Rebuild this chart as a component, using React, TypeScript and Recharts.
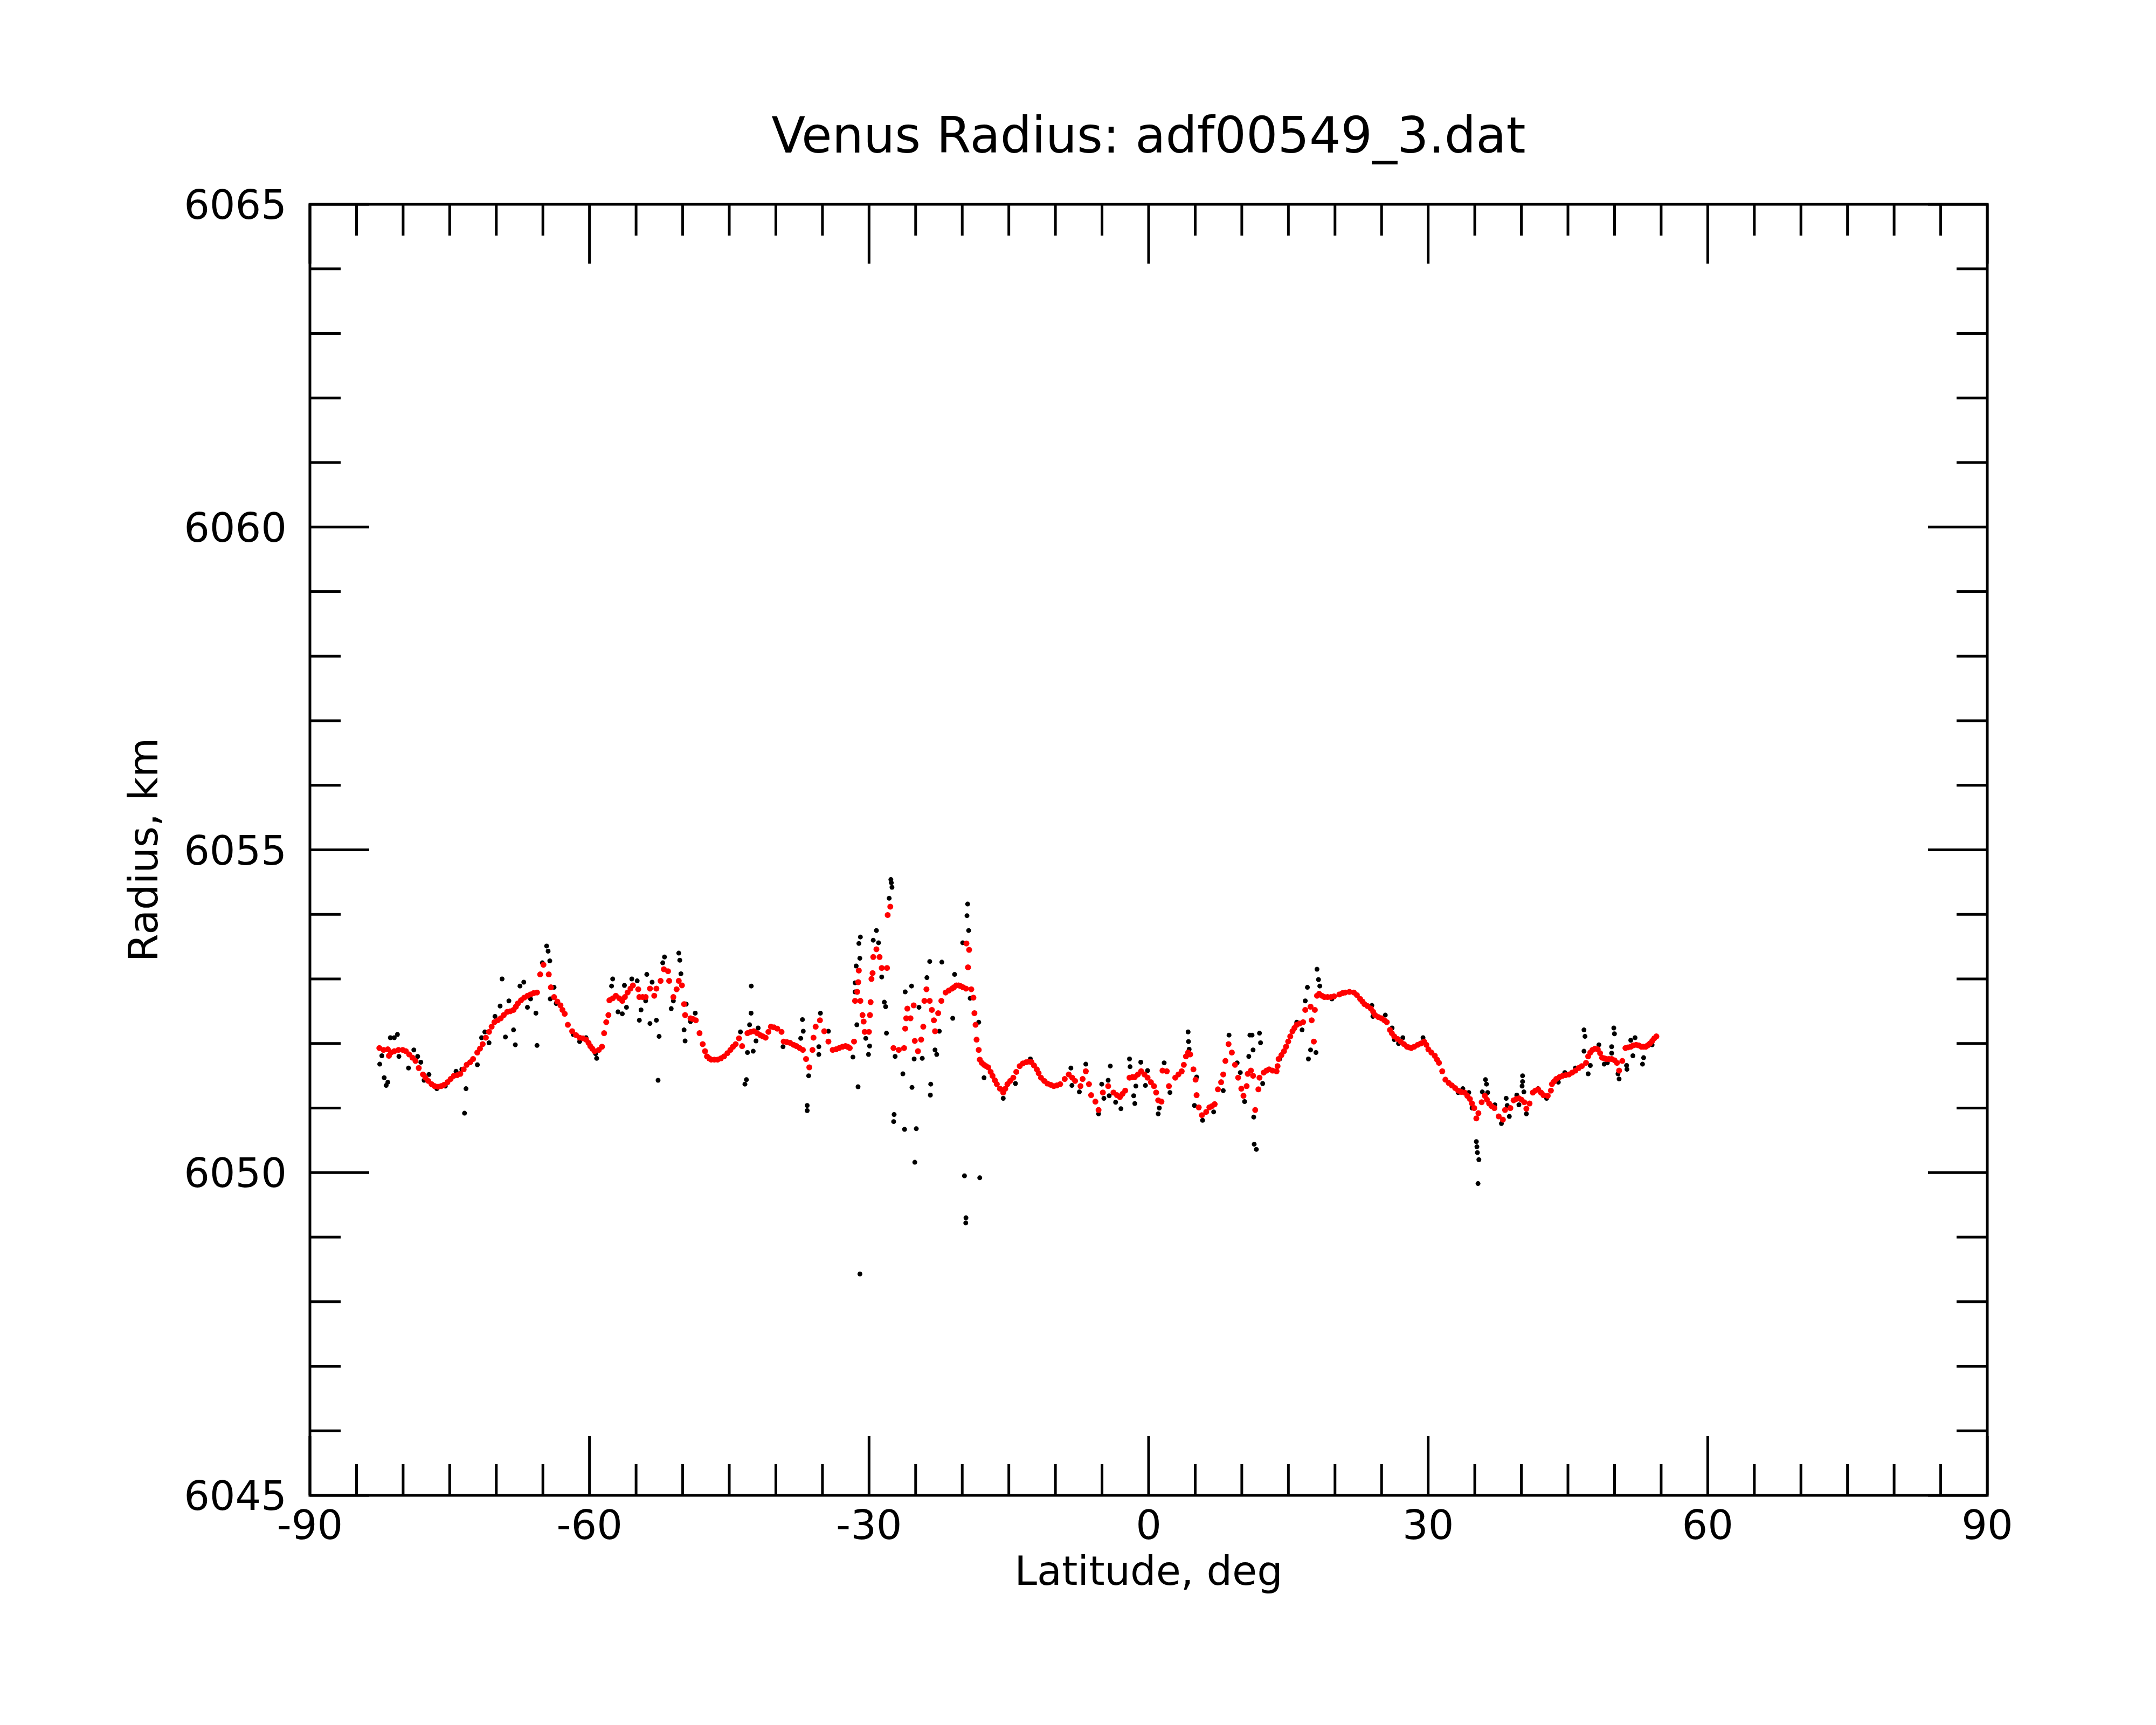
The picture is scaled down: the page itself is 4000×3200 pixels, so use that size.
// Venus radius profile along one altimetry track (adf00549_3.dat).
// Black dots = raw radius samples, red dots = smoothed profile.
// Frame with inward ticks on all four sides, drawn by custom tick renderers.

import { ReferenceArea, Scatter, ScatterChart, XAxis, YAxis } from 'recharts'

const WIDTH = 4000
const HEIGHT = 3200
const PLOT_LEFT = 575
const PLOT_TOP = 379
const PLOT_RIGHT = 3687
const PLOT_BOTTOM = 2774
const PLOT_W = PLOT_RIGHT - PLOT_LEFT
const PLOT_H = PLOT_BOTTOM - PLOT_TOP
const FONT = '"DejaVu Sans", sans-serif'

const latTicks = [
  -90, -85, -80, -75, -70, -65, -60, -55, -50, -45, -40, -35, -30, -25, -20, -15, -10, -5, 0,
  5, 10, 15, 20, 25, 30, 35, 40, 45, 50, 55, 60, 65, 70, 75, 80, 85, 90,
]
const radiusTicks = [
  6045, 6046, 6047, 6048, 6049, 6050, 6051, 6052, 6053, 6054, 6055,
  6056, 6057, 6058, 6059, 6060, 6061, 6062, 6063, 6064, 6065,
]

// [latitude deg, radius km] — smoothed profile (red)
const smoothed: [number, number][] = [
  [-82.55, 6051.93], [-81.64, 6051.91], [-81.52, 6051.81], [-80.95, 6051.88], [-80.04, 6051.9],
  [-79.35, 6051.83], [-78.67, 6051.73], [-78.32, 6051.62], [-77.87, 6051.52], [-77.3, 6051.42],
  [-76.61, 6051.34], [-75.92, 6051.34], [-75.24, 6051.4], [-74.55, 6051.5], [-73.86, 6051.53],
  [-73.18, 6051.67], [-72.49, 6051.76], [-72.04, 6051.86], [-71.46, 6051.99], [-71.12, 6052.09],
  [-70.78, 6052.18], [-70.2, 6052.33], [-69.52, 6052.39], [-68.83, 6052.49], [-68.15, 6052.52],
  [-67.69, 6052.62], [-67.0, 6052.71], [-66.32, 6052.76], [-65.63, 6052.79], [-65.29, 6053.07],
  [-64.94, 6053.22], [-64.37, 6053.07], [-64.14, 6052.87], [-63.8, 6052.72], [-63.11, 6052.59],
  [-62.66, 6052.46], [-62.32, 6052.29], [-61.86, 6052.19], [-61.06, 6052.09], [-60.37, 6052.06],
  [-59.91, 6051.96], [-59.46, 6051.88], [-59.0, 6051.9], [-58.66, 6051.95], [-58.43, 6052.16],
  [-58.2, 6052.33], [-57.97, 6052.44], [-57.86, 6052.67], [-57.17, 6052.74], [-56.48, 6052.66],
  [-55.91, 6052.79], [-55.34, 6052.9], [-54.77, 6052.84], [-54.65, 6052.72], [-53.97, 6052.72],
  [-53.51, 6052.85], [-53.05, 6052.74], [-52.82, 6052.85], [-52.37, 6052.97], [-52.02, 6053.15],
  [-51.57, 6053.12], [-51.45, 6052.97], [-51.0, 6052.72], [-50.65, 6052.84], [-50.42, 6052.97],
  [-50.08, 6052.9], [-49.85, 6052.61], [-49.74, 6052.44], [-49.16, 6052.39], [-48.59, 6052.36],
  [-48.19, 6052.16], [-47.85, 6051.99], [-47.39, 6051.8], [-46.94, 6051.75], [-46.25, 6051.75],
  [-45.56, 6051.8], [-44.88, 6051.9], [-44.31, 6051.99], [-43.96, 6052.08], [-43.62, 6051.96],
  [-43.05, 6052.16], [-42.36, 6052.19], [-41.68, 6052.13], [-41.1, 6052.09], [-40.53, 6052.26],
  [-39.85, 6052.23], [-39.39, 6052.18], [-39.16, 6052.03], [-38.47, 6052.01], [-37.79, 6051.96],
  [-37.1, 6051.9], [-36.76, 6051.76], [-36.41, 6051.63], [-36.07, 6051.9], [-35.96, 6052.09],
  [-35.73, 6052.26], [-35.27, 6052.36], [-34.81, 6052.19], [-34.36, 6052.03], [-33.9, 6051.9],
  [-33.21, 6051.93], [-32.53, 6051.96], [-32.07, 6051.93], [-31.61, 6052.03], [-31.5, 6052.66],
  [-31.27, 6052.8], [-31.16, 6052.95], [-31.1, 6053.13], [-30.93, 6052.66], [-30.7, 6052.44],
  [-30.58, 6052.34], [-30.47, 6052.18], [-30.01, 6052.18], [-29.9, 6052.44], [-29.83, 6052.64],
  [-29.74, 6053.0], [-29.62, 6053.09], [-29.55, 6053.34], [-29.21, 6053.46], [-28.87, 6053.34],
  [-28.64, 6053.17], [-28.07, 6053.17], [-28.0, 6053.99], [-27.72, 6054.12], [-27.38, 6051.93],
  [-26.81, 6051.9], [-26.24, 6051.93], [-26.12, 6052.23], [-26.01, 6052.39], [-25.89, 6052.54],
  [-25.55, 6052.39], [-25.21, 6052.59], [-25.09, 6052.04], [-24.75, 6051.88], [-24.41, 6052.06],
  [-24.18, 6052.26], [-24.06, 6052.66], [-23.84, 6052.84], [-23.49, 6052.66], [-23.26, 6052.52],
  [-23.04, 6052.36], [-22.92, 6052.19], [-22.58, 6052.47], [-22.24, 6052.66], [-21.78, 6052.79],
  [-21.09, 6052.85], [-20.63, 6052.9], [-20.18, 6052.89], [-19.6, 6052.85], [-19.55, 6053.55],
  [-19.38, 6053.18], [-19.26, 6053.45], [-19.03, 6052.84], [-18.8, 6052.71], [-18.69, 6052.47],
  [-18.57, 6052.29], [-18.46, 6052.06], [-18.23, 6051.9], [-18.12, 6051.75], [-17.66, 6051.67],
  [-17.21, 6051.63], [-16.75, 6051.5], [-16.29, 6051.37], [-15.6, 6051.24], [-15.15, 6051.37],
  [-14.52, 6051.47], [-13.83, 6051.65], [-13.15, 6051.71], [-12.57, 6051.71], [-12.0, 6051.6],
  [-11.55, 6051.47], [-10.86, 6051.38], [-10.17, 6051.34], [-9.49, 6051.37], [-8.57, 6051.52],
  [-7.89, 6051.42], [-7.31, 6051.34], [-7.08, 6051.45], [-6.74, 6051.57], [-6.4, 6051.37],
  [-6.17, 6051.2], [-5.71, 6051.1], [-5.37, 6050.97], [-4.91, 6051.24], [-4.34, 6051.34],
  [-3.77, 6051.24], [-3.08, 6051.17], [-2.51, 6051.27], [-2.05, 6051.47], [-1.48, 6051.48],
  [-0.8, 6051.57], [-0.11, 6051.47], [0.58, 6051.34], [0.81, 6051.24], [1.03, 6051.12],
  [1.38, 6051.1], [1.49, 6051.58], [1.95, 6051.57], [2.18, 6051.34], [2.86, 6051.47],
  [3.55, 6051.57], [3.78, 6051.67], [4.01, 6051.8], [4.24, 6051.86], [4.46, 6051.83],
  [4.81, 6051.6], [5.04, 6051.44], [5.15, 6051.2], [5.38, 6051.01], [5.72, 6050.89],
  [6.18, 6050.94], [6.52, 6051.01], [7.09, 6051.06], [7.44, 6051.29], [7.78, 6051.4],
  [8.01, 6051.52], [8.24, 6051.73], [8.58, 6051.99], [8.93, 6051.86], [9.27, 6051.67],
  [9.61, 6051.47], [9.95, 6051.3], [10.18, 6051.19], [10.52, 6051.34], [10.64, 6051.53],
  [10.98, 6051.58], [11.21, 6051.5], [11.44, 6050.97], [11.78, 6051.29], [11.9, 6051.47],
  [12.35, 6051.55], [12.93, 6051.6], [13.73, 6051.57], [13.84, 6051.65], [13.95, 6051.76],
  [14.53, 6051.88], [14.98, 6052.03], [15.44, 6052.19], [15.9, 6052.29], [16.58, 6052.33],
  [16.81, 6052.52], [17.38, 6052.57], [17.5, 6052.36], [17.73, 6052.03], [17.84, 6052.52],
  [18.07, 6052.74], [18.3, 6052.77], [18.87, 6052.72], [19.56, 6052.72], [20.47, 6052.76],
  [21.1, 6052.79], [22.02, 6052.79], [22.7, 6052.69], [23.16, 6052.61], [23.85, 6052.54],
  [24.3, 6052.44], [24.99, 6052.39], [25.56, 6052.33], [25.9, 6052.21], [26.36, 6052.11],
  [27.05, 6052.03], [27.73, 6051.95], [28.19, 6051.93], [28.88, 6051.98], [29.56, 6052.03],
  [30.02, 6051.91], [30.71, 6051.81], [31.16, 6051.7], [31.51, 6051.57], [31.85, 6051.44],
  [32.54, 6051.35], [33.22, 6051.27], [33.91, 6051.24], [34.48, 6051.14], [34.94, 6051.0],
  [35.17, 6050.84], [35.39, 6050.92], [35.74, 6051.09], [36.08, 6051.19], [36.54, 6051.07],
  [37.11, 6051.0], [37.57, 6050.87], [38.02, 6050.82], [38.25, 6050.97], [38.82, 6051.0],
  [39.17, 6051.12], [39.74, 6051.15], [40.31, 6051.09], [40.54, 6050.99], [40.88, 6051.07],
  [41.23, 6051.24], [41.8, 6051.29], [42.37, 6051.2], [42.83, 6051.19], [43.17, 6051.27],
  [43.28, 6051.37], [43.74, 6051.45], [44.43, 6051.5], [45.11, 6051.52], [45.8, 6051.58],
  [46.49, 6051.65], [46.94, 6051.7], [47.17, 6051.8], [47.63, 6051.9], [48.2, 6051.91],
  [48.66, 6051.78], [49.12, 6051.76], [49.69, 6051.76], [50.26, 6051.7], [50.49, 6051.58],
  [50.83, 6051.73], [51.17, 6051.93], [51.74, 6051.95], [52.32, 6051.98], [52.89, 6051.95],
  [53.35, 6051.95], [53.8, 6052.0], [54.26, 6052.08], [54.49, 6052.11],
]

// more red samples read along the stretches where the profile is a solid chain of dots
const smoothedChain: [number, number][] = [
  [-82.1, 6051.9], [-81.3, 6051.86], [-80.5, 6051.9], [-79.7, 6051.88], [-79.0, 6051.78],
  [-77.6, 6051.47], [-76.95, 6051.37], [-76.25, 6051.33], [-75.6, 6051.36], [-74.9, 6051.45],
  [-74.2, 6051.51], [-73.5, 6051.6], [-72.8, 6051.71], [-71.75, 6051.92], [-70.5, 6052.26],
  [-69.85, 6052.36], [-69.2, 6052.44], [-68.5, 6052.5], [-67.9, 6052.57], [-67.35, 6052.67],
  [-66.65, 6052.74], [-66.0, 6052.78], [-63.45, 6052.65], [-62.9, 6052.52], [-61.45, 6052.13],
  [-60.7, 6052.08], [-60.1, 6052.01], [-59.7, 6051.92], [-57.5, 6052.7], [-56.8, 6052.7],
  [-56.2, 6052.72], [-55.6, 6052.85], [-54.3, 6052.72], [-48.9, 6052.38], [-47.6, 6051.88],
  [-47.15, 6051.77], [-46.6, 6051.75], [-45.9, 6051.77], [-45.2, 6051.85], [-44.6, 6051.95],
  [-42.7, 6052.18], [-42.0, 6052.16], [-41.4, 6052.11], [-40.8, 6052.18], [-40.2, 6052.25],
  [-38.8, 6052.02], [-38.1, 6051.98], [-37.45, 6051.93], [-33.55, 6051.91], [-32.85, 6051.95],
  [-32.3, 6051.95], [-21.45, 6052.82], [-20.9, 6052.87], [-20.4, 6052.9], [-19.9, 6052.87],
  [-17.9, 6051.7], [-17.45, 6051.65], [-16.95, 6051.56], [-16.5, 6051.43], [-15.95, 6051.3],
  [-15.38, 6051.3], [-14.85, 6051.42], [-14.2, 6051.56], [-13.5, 6051.69], [-12.85, 6051.72],
  [-12.3, 6051.66], [-11.8, 6051.54], [-11.2, 6051.42], [-10.5, 6051.36], [-9.85, 6051.35],
  [-9.0, 6051.45], [-8.2, 6051.47], [-3.4, 6051.2], [-2.8, 6051.22], [-1.75, 6051.48],
  [-1.15, 6051.52], [-0.45, 6051.52], [0.25, 6051.4], [3.2, 6051.52], [6.8, 6051.03],
  [12.65, 6051.58], [13.3, 6051.58], [14.25, 6051.82], [14.75, 6051.95], [15.2, 6052.11],
  [15.65, 6052.24], [16.2, 6052.31], [18.6, 6052.74], [19.2, 6052.72], [19.9, 6052.73],
  [20.8, 6052.78], [21.55, 6052.8], [22.35, 6052.75], [22.95, 6052.65], [23.5, 6052.58],
  [24.1, 6052.49], [24.65, 6052.41], [25.3, 6052.36], [26.1, 6052.16], [26.7, 6052.07],
  [27.4, 6051.99], [27.95, 6051.94], [28.5, 6051.95], [29.2, 6052.0], [29.8, 6051.98],
  [30.35, 6051.86], [30.95, 6051.75], [32.2, 6051.39], [32.9, 6051.31], [33.55, 6051.25],
  [34.2, 6051.19], [34.7, 6051.07], [36.3, 6051.13], [36.8, 6051.03], [39.45, 6051.14],
  [40.0, 6051.13], [41.5, 6051.27], [42.1, 6051.24], [43.5, 6051.41], [44.1, 6051.48],
  [44.75, 6051.51], [45.45, 6051.55], [46.15, 6051.62], [47.4, 6051.86], [47.9, 6051.92],
  [48.45, 6051.85], [48.9, 6051.77], [49.4, 6051.76], [50.0, 6051.74], [51.45, 6051.94],
  [52.0, 6051.97], [52.6, 6051.97], [53.1, 6051.95], [53.55, 6051.97], [54.05, 6052.04],
]

// [latitude deg, radius km] — raw samples that stand clear of the red profile (black)
const raw: [number, number][] = [
  [-82.51, 6051.68], [-82.28, 6051.81], [-82.03, 6051.47], [-81.82, 6051.35], [-81.64, 6051.4],
  [-81.37, 6052.09], [-80.95, 6052.09], [-80.61, 6052.14], [-80.45, 6051.8], [-79.42, 6051.62],
  [-78.85, 6051.9], [-78.44, 6051.8], [-78.1, 6051.71], [-77.75, 6051.43], [-77.23, 6051.52],
  [-76.38, 6051.3], [-75.47, 6051.34], [-74.32, 6051.57], [-73.7, 6051.6], [-73.41, 6050.92],
  [-73.25, 6051.3], [-72.03, 6051.67], [-71.58, 6052.09], [-71.23, 6052.18], [-70.78, 6052.01],
  [-70.14, 6052.42], [-69.59, 6052.58], [-69.38, 6053.0], [-69.02, 6052.1], [-68.65, 6052.66],
  [-68.15, 6052.21], [-67.96, 6051.98], [-67.46, 6052.89], [-67.05, 6052.95], [-66.66, 6052.56],
  [-66.32, 6052.69], [-65.75, 6052.47], [-65.63, 6051.97], [-65.06, 6053.25], [-64.6, 6053.51],
  [-64.44, 6053.43], [-64.26, 6053.28], [-64.21, 6052.69], [-63.8, 6052.87], [-63.57, 6052.62],
  [-61.74, 6052.14], [-61.06, 6052.03], [-60.37, 6052.09], [-59.34, 6051.84], [-59.23, 6051.77],
  [-57.63, 6052.89], [-57.51, 6053.0], [-56.94, 6052.49], [-56.48, 6052.46], [-56.25, 6052.9],
  [-56.03, 6052.56], [-55.46, 6053.0], [-54.88, 6052.97], [-54.65, 6052.36], [-54.47, 6052.52],
  [-53.97, 6052.66], [-53.85, 6053.07], [-53.51, 6052.31], [-53.28, 6052.95], [-52.82, 6052.36],
  [-52.64, 6051.43], [-52.53, 6052.11], [-52.14, 6053.25], [-51.95, 6053.34], [-51.23, 6052.54],
  [-51.0, 6052.66], [-50.42, 6053.4], [-50.31, 6053.29], [-50.19, 6053.08], [-49.85, 6052.21],
  [-49.74, 6052.04], [-49.62, 6052.61], [-49.16, 6052.34], [-48.65, 6052.47], [-43.8, 6052.18],
  [-43.32, 6051.37], [-43.16, 6051.44], [-43.05, 6051.86], [-42.82, 6052.29], [-42.66, 6052.47],
  [-42.64, 6052.89], [-42.43, 6051.88], [-42.13, 6052.04], [-41.9, 6052.24], [-39.23, 6051.95],
  [-37.33, 6052.08], [-37.15, 6052.37], [-37.06, 6052.19], [-36.64, 6051.04], [-36.64, 6050.96],
  [-36.48, 6051.5], [-35.39, 6051.95], [-35.39, 6051.83], [-35.22, 6052.47], [-34.36, 6052.19],
  [-31.73, 6051.79], [-31.5, 6052.94], [-31.5, 6052.8], [-31.38, 6053.2], [-31.31, 6052.29],
  [-31.18, 6051.33], [-31.09, 6053.55], [-30.99, 6053.32], [-30.98, 6048.43], [-30.93, 6053.65],
  [-30.35, 6052.08], [-30.06, 6051.83], [-29.94, 6051.96], [-29.55, 6053.6], [-29.21, 6053.75],
  [-28.98, 6053.56], [-28.64, 6053.03], [-28.36, 6052.64], [-28.22, 6052.57], [-28.13, 6052.16],
  [-27.84, 6054.25], [-27.66, 6054.54], [-27.61, 6054.49], [-27.54, 6054.42], [-27.36, 6050.79],
  [-27.31, 6050.9], [-27.2, 6051.8], [-26.37, 6051.53], [-26.19, 6050.67], [-26.12, 6052.8],
  [-25.44, 6052.89], [-25.39, 6051.32], [-25.16, 6051.76], [-25.09, 6050.16], [-24.93, 6050.68],
  [-24.64, 6052.56], [-24.29, 6051.77], [-23.79, 6053.02], [-23.49, 6053.27], [-23.42, 6051.2],
  [-23.38, 6051.37], [-22.92, 6051.9], [-22.74, 6051.83], [-22.46, 6052.19], [-22.19, 6053.26],
  [-21.02, 6052.39], [-20.82, 6053.07], [-19.95, 6053.56], [-19.76, 6049.95], [-19.62, 6049.22],
  [-19.6, 6049.3], [-19.49, 6053.98], [-19.42, 6054.16], [-19.31, 6053.75], [-19.15, 6052.7],
  [-18.23, 6052.33], [-18.12, 6049.92], [-17.66, 6051.47], [-15.6, 6051.15], [-14.29, 6051.38],
  [-12.69, 6051.76], [-8.34, 6051.62], [-8.23, 6051.35], [-7.43, 6051.25], [-6.74, 6051.68],
  [-5.37, 6050.91], [-5.03, 6051.37], [-4.8, 6051.15], [-4.34, 6051.43], [-4.23, 6051.19],
  [-4.11, 6051.65], [-3.54, 6051.09], [-2.97, 6050.99], [-2.05, 6051.76], [-1.99, 6051.64],
  [-1.6, 6051.19], [-1.48, 6051.07], [-1.37, 6051.34], [-0.84, 6051.71], [-0.34, 6051.35],
  [-0.11, 6051.58], [1.03, 6050.91], [1.15, 6051.0], [1.67, 6051.7], [2.29, 6051.24],
  [2.86, 6051.47], [4.24, 6052.18], [4.28, 6052.03], [4.35, 6051.91], [4.92, 6051.04],
  [5.15, 6051.48], [5.79, 6050.81], [6.98, 6050.94], [8.01, 6051.27], [8.63, 6052.13],
  [9.5, 6051.7], [9.84, 6051.55], [10.3, 6051.1], [10.75, 6051.8], [10.87, 6052.13],
  [11.1, 6052.13], [11.21, 6051.9], [11.28, 6050.86], [11.33, 6050.44], [11.56, 6050.36],
  [11.9, 6052.16], [12.01, 6052.01], [12.24, 6051.38], [14.07, 6051.76], [15.9, 6052.33],
  [16.47, 6052.21], [16.81, 6052.66], [17.04, 6052.87], [17.15, 6051.76], [17.38, 6051.9],
  [17.96, 6051.86], [18.07, 6053.15], [18.23, 6052.99], [18.37, 6052.89], [19.67, 6052.69],
  [21.56, 6052.8], [23.96, 6052.59], [24.07, 6052.42], [25.4, 6052.44], [26.13, 6052.24],
  [26.36, 6052.06], [26.82, 6052.0], [27.28, 6052.09], [29.45, 6052.09], [33.22, 6051.24],
  [33.72, 6051.3], [34.36, 6051.24], [34.71, 6051.0], [35.17, 6050.48], [35.23, 6050.4],
  [35.28, 6050.31], [35.35, 6049.83], [35.44, 6050.2], [35.81, 6051.25], [36.15, 6051.44],
  [36.26, 6051.37], [36.38, 6051.24], [37.15, 6051.05], [37.86, 6050.76], [38.37, 6051.15],
  [38.48, 6051.04], [38.71, 6050.87], [39.51, 6051.2], [39.74, 6051.05], [40.08, 6051.34],
  [40.13, 6051.5], [40.13, 6051.41], [40.27, 6051.25], [40.54, 6050.91], [41.8, 6051.3],
  [42.71, 6051.15], [43.97, 6051.4], [44.66, 6051.55], [45.8, 6051.62], [46.72, 6052.21],
  [46.83, 6052.11], [46.72, 6051.88], [47.17, 6051.53], [47.4, 6051.66], [48.32, 6051.98],
  [48.89, 6051.68], [49.23, 6051.7], [49.69, 6051.95], [49.69, 6051.85], [49.92, 6052.24],
  [49.99, 6052.15], [50.37, 6051.53], [50.49, 6051.45], [51.29, 6051.66], [51.33, 6051.6],
  [51.74, 6052.05], [51.97, 6051.81], [52.2, 6052.09], [53.0, 6051.68], [53.12, 6051.78],
  [54.03, 6051.98],
]

const toPoints = (rows: [number, number][]) => rows.map(([lat, radius]) => ({ lat, radius }))

function LatTick({ x, y, payload }: any) {
  const v = payload.value as number
  const major = v % 30 === 0
  const len = major ? 110 : 58
  const top = y - PLOT_H
  return (
    <g>
      <line x1={x} x2={x} y1={y} y2={y - len} stroke="#000" strokeWidth={5} />
      <line x1={x} x2={x} y1={top} y2={top + len} stroke="#000" strokeWidth={5} />
      {major && (
        <text x={x} y={y + 81} textAnchor="middle" fontSize={75} fontFamily={FONT} fill="#000">
          {v}
        </text>
      )}
    </g>
  )
}

function RadiusTick({ x, y, payload }: any) {
  const v = payload.value as number
  const major = v % 5 === 0
  const len = major ? 110 : 57
  const right = x + PLOT_W
  return (
    <g>
      <line x1={x} x2={x + len} y1={y} y2={y} stroke="#000" strokeWidth={5} />
      <line x1={right} x2={right - len} y1={y} y2={y} stroke="#000" strokeWidth={5} />
      {major && (
        <text x={x - 43} y={y + 27} textAnchor="end" fontSize={75} fontFamily={FONT} fill="#000">
          {v}
        </text>
      )}
    </g>
  )
}

const RawDot = (p: any) => <circle cx={p.cx} cy={p.cy} r={4.5} fill="#000" />
const SmoothDot = (p: any) => <circle cx={p.cx} cy={p.cy} r={5.5} fill="#ff0000" />

export default function App() {
  return (
    <div style={{ position: 'relative', width: WIDTH, height: HEIGHT, background: '#fff' }}>
      <style>{'body{margin:0;background:#fff}'}</style>
      <ScatterChart
        width={WIDTH}
        height={HEIGHT}
        margin={{ top: PLOT_TOP, right: WIDTH - PLOT_RIGHT, bottom: 0, left: 0 }}
      >
        <XAxis
          type="number"
          dataKey="lat"
          domain={[-90, 90]}
          ticks={latTicks}
          interval={0}
          allowDataOverflow
          height={HEIGHT - PLOT_BOTTOM}
          axisLine={false}
          tickLine={false}
          tickSize={0}
          tickMargin={0}
          tick={<LatTick />}
        />
        <YAxis
          type="number"
          dataKey="radius"
          domain={[6045, 6065]}
          ticks={radiusTicks}
          interval={0}
          allowDataOverflow
          width={PLOT_LEFT}
          axisLine={false}
          tickLine={false}
          tickSize={0}
          tickMargin={0}
          tick={<RadiusTick />}
        />
        <ReferenceArea
          x1={-90}
          x2={90}
          y1={6045}
          y2={6065}
          fill="none"
          stroke="#000"
          strokeWidth={5}
        />
        <Scatter data={toPoints(raw)} shape={RawDot} isAnimationActive={false} />
        <Scatter
          data={toPoints([...smoothed, ...smoothedChain])}
          shape={SmoothDot}
          isAnimationActive={false}
        />
      </ScatterChart>
      <svg
        width={WIDTH}
        height={HEIGHT}
        style={{ position: 'absolute', left: 0, top: 0, pointerEvents: 'none' }}
      >
        <text x={(PLOT_LEFT + PLOT_RIGHT) / 2} y={283} textAnchor="middle" fontSize={92} fontFamily={FONT}>
          Venus Radius: adf00549_3.dat
        </text>
        <text x={(PLOT_LEFT + PLOT_RIGHT) / 2} y={2940} textAnchor="middle" fontSize={75} fontFamily={FONT}>
          Latitude, deg
        </text>
        <text
          transform={`translate(292, ${(PLOT_TOP + PLOT_BOTTOM) / 2}) rotate(-90)`}
          textAnchor="middle"
          fontSize={75}
          fontFamily={FONT}
        >
          Radius, km
        </text>
      </svg>
    </div>
  )
}
